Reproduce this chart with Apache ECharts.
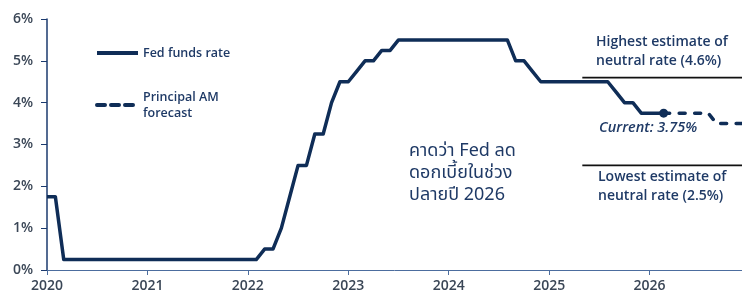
<!DOCTYPE html>
<html>
<head>
<meta charset="utf-8">
<script src="https://cdn.jsdelivr.net/npm/echarts@6/dist/echarts.min.js"></script>
<style>
  html, body { margin: 0; padding: 0; background: #fff; }
  #chart { width: 742px; height: 298px; }
</style>
</head>
<body>
<div id="chart"></div>
<script>
// x values are decimal years (year + month/12)
const fedFunds = [
    [2020, 1.75], [2020 + 1/12, 1.75], [2020 + 2/12, 0.25],
    [2022 + 1/12, 0.25], [2022 + 2/12, 0.5], [2022 + 3/12, 0.5],
    [2022 + 4/12, 1.0], [2022 + 5/12, 1.75], [2022 + 6/12, 2.5],
    [2022 + 7/12, 2.5], [2022 + 8/12, 3.25], [2022 + 9/12, 3.25],
    [2022 + 10/12, 4.0], [2022 + 11/12, 4.5], [2023, 4.5],
    [2023 + 1/12, 4.75], [2023 + 2/12, 5.0], [2023 + 3/12, 5.0],
    [2023 + 4/12, 5.25], [2023 + 5/12, 5.25], [2023 + 6/12, 5.5],
    [2024 + 7/12, 5.5], [2024 + 8/12, 5.0], [2024 + 9/12, 5.0],
    [2024 + 10/12, 4.75], [2024 + 11/12, 4.5], [2025 + 7/12, 4.5],
    [2025 + 8/12, 4.25], [2025 + 9/12, 4.0], [2025 + 10/12, 4.0],
    [2025 + 11/12, 3.75], [2026.14, 3.75]
];
const forecast = [[2026.14, 3.75], [2026 + 7/12, 3.75], [2026 + 8/12, 3.5], [2026.92, 3.5]];
const neutralHigh = [[2025.33, 4.6], [2026.92, 4.6]];
const neutralLow = [[2025.33, 2.5], [2026.92, 2.5]];
const yTicks = [0, 1, 2, 3, 4, 5, 6];

const navy = '#0f2d57';
const textNavy = '#1f3a66';
const labelFont = '"Open Sans", sans-serif';

let chart = echarts.init(document.getElementById('chart'));

chart.setOption({
    animation: false,
    grid: { left: 47, right: 0, top: 19, bottom: 28 },
    legend: {
        orient: 'vertical',
        left: 90,
        top: 40,
        itemWidth: 41,
        itemHeight: 14,
        itemGap: 28,
        itemStyle: { opacity: 0 },
        lineStyle: { width: 4 },
        data: [
            { name: 'Fed funds rate' },
            { name: 'Principal AM\nforecast', lineStyle: { type: [8, 6], cap: 'round', width: 4 } }
        ],
        textStyle: { color: textNavy, fontFamily: labelFont, fontWeight: 600, fontSize: 12.5, lineHeight: 16 }
    },
    xAxis: {
        type: 'value',
        min: 2020,
        max: 2026.92,
        interval: 1,
        splitLine: { show: false },
        axisLine: { lineStyle: { color: '#4c6d9e', width: 1 } },
        axisTick: { length: 5, lineStyle: { color: '#4c6d9e' } },
        axisLabel: {
            showMaxLabel: false,
            margin: 9,
            color: '#3a4656',
            fontFamily: labelFont,
            fontWeight: 600,
            fontSize: 14,
            formatter: v => String(Math.round(v))
        }
    },
    yAxis: {
        type: 'value',
        min: yTicks[0],
        max: yTicks[yTicks.length - 1],
        interval: 1,
        splitLine: { show: false },
        axisLine: { show: true, lineStyle: { color: '#1b3a6e', width: 1.5 } },
        axisTick: { show: true, length: 6, lineStyle: { color: '#1b3a6e' } },
        axisLabel: {
            margin: 14,
            color: '#3a4656',
            fontFamily: labelFont,
            fontWeight: 600,
            fontSize: 14,
            formatter: '{value}%'
        }
    },
    series: [
        {
            name: 'Fed funds rate',
            type: 'line',
            data: fedFunds,
            symbol: 'none',
            lineStyle: { color: navy, width: 3.5, join: 'round' },
            itemStyle: { color: navy },
            z: 3
        },
        {
            name: 'Principal AM\nforecast',
            type: 'line',
            data: forecast.map((d, i) => i === 0
                ? { value: d, symbol: 'circle', symbolSize: 9 }
                : { value: d, symbol: 'none' }),
            symbol: 'none',
            showSymbol: true,
            lineStyle: { color: navy, width: 3.5, type: [6, 9.5], cap: 'round' },
            itemStyle: { color: navy },
            z: 4
        },
        {
            name: 'high',
            type: 'line',
            data: neutralHigh,
            symbol: 'none',
            silent: true,
            lineStyle: { color: '#111', width: 1.8 }
        },
        {
            name: 'low',
            type: 'line',
            data: neutralLow,
            symbol: 'none',
            silent: true,
            lineStyle: { color: '#111', width: 1.8 }
        }
    ],
    graphic: [
        {
            type: 'text', left: 596, top: 33,
            style: {
                text: 'Highest estimate of\nneutral rate (4.6%)',
                fill: textNavy, font: '600 14px "Open Sans", sans-serif',
                lineHeight: 19
            }
        },
        {
            type: 'text', left: 599, top: 120,
            style: {
                text: 'Current: 3.75%',
                fill: textNavy, font: 'italic 600 14.5px "Open Sans", sans-serif'
            }
        },
        {
            type: 'text', left: 598, top: 168,
            style: {
                text: 'Lowest estimate of\nneutral rate (2.5%)',
                fill: textNavy, font: '600 14px "Open Sans", sans-serif',
                lineHeight: 19
            }
        },
        {
            type: 'text', left: 409, top: 140,
            style: {
                text: 'คาดว่า Fed ลด\nดอกเบี้ยในช่วง\nปลายปี 2026',
                fill: textNavy, font: '18px "Noto Sans", "Noto Sans Thai", sans-serif',
                lineHeight: 22
            }
        }
    ]
});
</script>
</body>
</html>
